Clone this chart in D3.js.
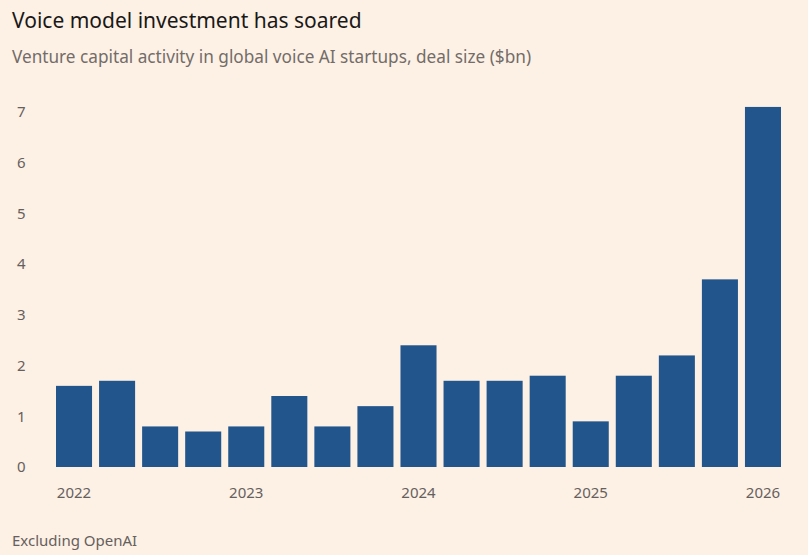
<!DOCTYPE html>
<html lang="en">
	<head>
		<meta charset="utf-8">
		<title>Voice model investment has soared</title>
		<script type="text/javascript" src="https://d3js.org/d3.v7.min.js"></script>
		<style type="text/css">
			body { margin: 0; background: #fdf1e6; }
			svg { display: block; }
			text { font-family: "Noto Sans", sans-serif; }
		</style>
	</head>
	<body>
		<script type="text/javascript">

			//Data: quarterly deal size ($bn), 2022 Q1 to 2026 Q1
			var quarters = ["2022 Q1","2022 Q2","2022 Q3","2022 Q4",
			                "2023 Q1","2023 Q2","2023 Q3","2023 Q4",
			                "2024 Q1","2024 Q2","2024 Q3","2024 Q4",
			                "2025 Q1","2025 Q2","2025 Q3","2025 Q4",
			                "2026 Q1"];
			var dealSize = [1.6, 1.7, 0.8, 0.7, 0.8, 1.4, 0.8, 1.2, 2.4, 1.7, 1.7, 1.8, 0.9, 1.8, 2.2, 3.7, 7.1];
			var yTicks = [0, 1, 2, 3, 4, 5, 6, 7];
			var yearLabels = {"2022 Q1": "2022", "2023 Q1": "2023", "2024 Q1": "2024", "2025 Q1": "2025", "2026 Q1": "2026"};

			var w = 808;
			var h = 555;

			var svg = d3.select("body")
						.append("svg")
						.attr("width", w)
						.attr("height", h);

			svg.append("rect")
			   .attr("width", w)
			   .attr("height", h)
			   .attr("fill", "#fdf1e6");

			var x = d3.scaleBand()
			          .domain(quarters)
			          .range([56, 781])
			          .paddingInner(0.163)
			          .paddingOuter(0);

			var y = d3.scaleLinear()
			          .domain([0, 7])
			          .range([467, 112]);

			//Bars
			svg.selectAll("rect.bar")
			   .data(dealSize)
			   .enter()
			   .append("rect")
			   .attr("class", "bar")
			   .attr("x", function(d, i) { return x(quarters[i]); })
			   .attr("y", function(d) { return y(d); })
			   .attr("width", x.bandwidth())
			   .attr("height", function(d) { return y(0) - y(d); })
			   .attr("fill", "#22558c");

			//Y axis (labels only)
			var yAxis = d3.axisLeft(y)
			              .tickValues(yTicks)
			              .tickFormat(d3.format("d"))
			              .tickSize(0)
			              .tickPadding(0);

			var gy = svg.append("g")
			            .attr("transform", "translate(17,0)")
			            .call(yAxis);
			gy.select(".domain").remove();
			gy.selectAll("text")
			  .attr("text-anchor", "start")
			  .attr("fill", "#66605c")
			  .style("font-size", "15px")
			  .style("font-family", "'Noto Sans', sans-serif");

			//X axis (year labels)
			var xAxis = d3.axisBottom(x)
			              .tickValues(Object.keys(yearLabels))
			              .tickFormat(function(d) { return yearLabels[d]; })
			              .tickSize(0)
			              .tickPadding(20);

			var gx = svg.append("g")
			            .attr("transform", "translate(0,467)")
			            .call(xAxis);
			gx.select(".domain").remove();
			gx.selectAll("text")
			  .attr("fill", "#66605c")
			  .style("font-size", "15px")
			  .style("font-family", "'Noto Sans', sans-serif");

			//Titles
			svg.append("text")
			   .attr("x", 12)
			   .attr("y", 28)
			   .attr("fill", "#1a1817")
			   .style("font-size", "21px")
			   .text("Voice model investment has soared");

			svg.append("text")
			   .attr("x", 12)
			   .attr("y", 63)
			   .attr("fill", "#736c68")
			   .style("font-size", "17.2px")
			   .text("Venture capital activity in global voice AI startups, deal size ($bn)");

			svg.append("text")
			   .attr("x", 12)
			   .attr("y", 546)
			   .attr("fill", "#66605c")
			   .style("font-size", "15px")
			   .text("Excluding OpenAI");

		</script>
	</body>
</html>
